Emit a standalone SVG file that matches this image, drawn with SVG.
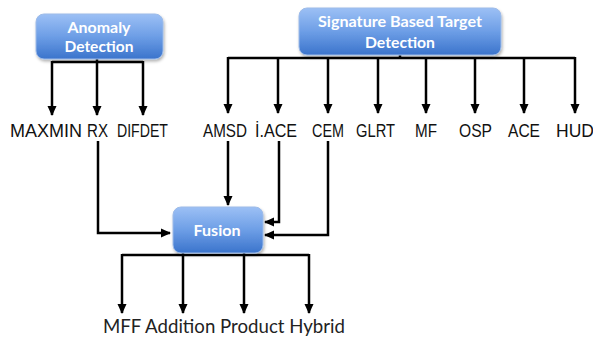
<svg xmlns="http://www.w3.org/2000/svg" width="593" height="343" viewBox="0 0 593 343">
<style>
.box{fill:url(#g);stroke:#9dbbe8;stroke-width:1}
.bt{font-family:Lato,"Open Sans",sans-serif;font-weight:bold;font-size:16px;fill:#fff;text-anchor:middle}
.lb{font-family:"Liberation Sans",Arial,sans-serif;font-size:17.5px;fill:#111}
.lc{font-family:Lato,"Open Sans",sans-serif;font-size:19px;fill:#222}
.c{fill:none;stroke:#000;stroke-width:2.5}
.a{marker-end:url(#ah)}
</style>
<defs>
<linearGradient id="g" x1="0" y1="0" x2="0" y2="1">
<stop offset="0" stop-color="#9cc0f5"/>
<stop offset="0.5" stop-color="#6d9ee6"/>
<stop offset="1" stop-color="#3b74cc"/>
</linearGradient>
<filter id="sh" x="-10%" y="-10%" width="130%" height="140%">
<feDropShadow dx="1" dy="2" stdDeviation="1.5" flood-color="#000" flood-opacity="0.3"/>
</filter>
<marker id="ah" markerUnits="userSpaceOnUse" markerWidth="10" markerHeight="10" refX="9" refY="5" orient="auto">
<path d="M0,0.5 L10,5 L0,9.5 z" fill="#000"/>
</marker>
</defs>
<g id="connectors">
<path class="c" d="M52,62 H143"/>
<path class="c a" d="M52,61 V115"/>
<path class="c a" d="M97,59 V115"/>
<path class="c a" d="M143,61 V115"/>
<path class="c" d="M228,58 H575"/>
<path class="c" d="M400,55 V58"/>
<path class="c a" d="M228,57 V113"/>
<path class="c a" d="M278,57 V113"/>
<path class="c a" d="M328,57 V113"/>
<path class="c a" d="M378,57 V113"/>
<path class="c a" d="M426,57 V113"/>
<path class="c a" d="M475,57 V113"/>
<path class="c a" d="M524,57 V113"/>
<path class="c a" d="M575,57 V113"/>
<path class="c a" d="M98,141 V233 H170"/>
<path class="c a" d="M228,141 V205"/>
<path class="c a" d="M279,141 V222 H265"/>
<path class="c a" d="M328,141 V235 H265"/>
<path class="c" d="M122,255 H309"/>
<path class="c a" d="M122,254 V313"/>
<path class="c a" d="M183,253 V313"/>
<path class="c a" d="M244,253 V313"/>
<path class="c a" d="M309,254 V313"/>
</g>
<g id="anomaly">
<rect class="box" x="36" y="14" width="127" height="45" rx="8" filter="url(#sh)"/>
<text class="bt" x="99" y="33" textLength="63" lengthAdjust="spacingAndGlyphs">Anomaly</text>
<text class="bt" x="99" y="52" textLength="69" lengthAdjust="spacingAndGlyphs">Detection</text>
</g>
<g id="signature">
<rect class="box" x="299" y="8" width="202" height="47" rx="8" filter="url(#sh)"/>
<text class="bt" x="400" y="27" textLength="164" lengthAdjust="spacingAndGlyphs">Signature Based Target</text>
<text class="bt" x="400" y="48" textLength="70" lengthAdjust="spacingAndGlyphs">Detection</text>
</g>
<g id="fusion">
<rect class="box" x="173" y="207" width="90" height="46" rx="8" filter="url(#sh)"/>
<text class="bt" x="217" y="236" textLength="47" lengthAdjust="spacingAndGlyphs">Fusion</text>
</g>
<g id="labels">
<text class="lb" x="10" y="137" textLength="72" lengthAdjust="spacingAndGlyphs">MAXMIN</text>
<text class="lb" x="87" y="137" textLength="21" lengthAdjust="spacingAndGlyphs">RX</text>
<text class="lb" x="117" y="137" textLength="51" lengthAdjust="spacingAndGlyphs">DIFDET</text>
<text class="lb" x="203" y="137" textLength="44" lengthAdjust="spacingAndGlyphs">AMSD</text>
<text class="lb" x="255" y="137" textLength="42" lengthAdjust="spacingAndGlyphs">İ.ACE</text>
<text class="lb" x="312" y="137" textLength="32" lengthAdjust="spacingAndGlyphs">CEM</text>
<text class="lb" x="356" y="137" textLength="39" lengthAdjust="spacingAndGlyphs">GLRT</text>
<text class="lb" x="415" y="137" textLength="22" lengthAdjust="spacingAndGlyphs">MF</text>
<text class="lb" x="459" y="137" textLength="33" lengthAdjust="spacingAndGlyphs">OSP</text>
<text class="lb" x="508" y="137" textLength="32" lengthAdjust="spacingAndGlyphs">ACE</text>
<text class="lb" x="556" y="137" font-size="16">HUD</text>
<text class="lc" x="103" y="333" textLength="242" lengthAdjust="spacingAndGlyphs">MFF Addition Product Hybrid</text>
</g>
</svg>
